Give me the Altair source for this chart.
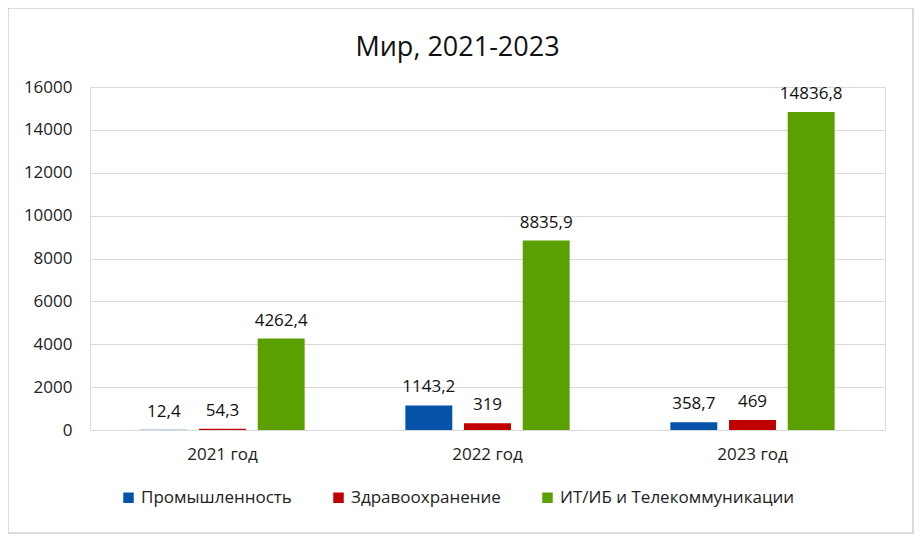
import altair as alt
import pandas as pd

years = ["2021 год", "2022 год", "2023 год"]
series = ["Промышленность", "Здравоохранение", "ИТ/ИБ и Телекоммуникации"]
prom = [12.4, 1143.2, 358.7]
zdrav = [54.3, 319, 469]
it_tel = [4262.4, 8835.9, 14836.8]
colors = ["#0453A8", "#C00000", "#5AA000"]
y_ticks = [0, 2000, 4000, 6000, 8000, 10000, 12000, 14000, 16000]

rows = []
for s, vals in zip(series, [prom, zdrav, it_tel]):
    for yr, v in zip(years, vals):
        lab = (f"{v:.1f}".rstrip("0").rstrip(".")).replace(".", ",")
        rows.append({"year": yr, "series": s, "value": v, "label": lab})
df = pd.DataFrame(rows)

FONT = "Open Sans"

x = alt.X("year:N", sort=years, title=None,
          scale=alt.Scale(paddingInner=0.38, paddingOuter=0.19),
          axis=alt.Axis(labelAngle=0, labelFontSize=17, labelFont=FONT, labelColor="#222",
                        labelPadding=16, domain=False, ticks=False, grid=False))
xo = alt.XOffset("series:N", sort=series, scale=alt.Scale(paddingInner=0.2))
y = alt.Y("value:Q", title=None,
          scale=alt.Scale(domain=[0, 16000], nice=False),
          axis=alt.Axis(values=y_ticks, format="d", labelFontSize=17, labelFont=FONT, labelColor="#222",
                        labelPadding=18, domain=False, ticks=False, grid=True,
                        gridColor="#D9D9D9", gridWidth=1))

bars = alt.Chart(df).mark_bar().encode(
    x=x, xOffset=xo, y=y,
    color=alt.Color("series:N", sort=series,
                    scale=alt.Scale(domain=series, range=colors),
                    legend=alt.Legend(title=None, orient="none", direction="horizontal",
                                      legendX=30, legendY=402, symbolType="square",
                                      symbolSize=110, symbolStrokeWidth=0,
                                      labelFontSize=17, labelFont=FONT, labelColor="#222",
                                      labelLimit=0,
                                      columnPadding=38, labelOffset=4, padding=0))
)

text = alt.Chart(df).mark_text(baseline="bottom", dy=-9, fontSize=17, font=FONT, color="#111").encode(
    x=alt.X("year:N", sort=years), xOffset=alt.XOffset("series:N", sort=series),
    y="value:Q", text="label:N"
)

border = alt.Chart(alt.Data(values=[{"a": 1}])).mark_rect(filled=False, stroke="#D0D0D0", strokeWidth=1.5).encode(
    x=alt.value(-82), x2=alt.value(823), y=alt.value(-79), y2=alt.value(446)
)

chart = alt.layer(border, bars, text).properties(
    width=795, height=343,
    title=alt.Title("Мир, 2021-2023", fontSize=27, font=FONT, fontWeight="normal",
                    color="#111", anchor="middle", baseline="alphabetic", dx=-30, dy=76, offset=0),
    autosize=alt.AutoSizeParams(type="none"),
    padding={"left": 82, "top": 79, "right": 29, "bottom": 110},
).configure_view(stroke=None).configure(background="white")

chart.save("out.html", embed_options={"renderer": "svg", "actions": False})
